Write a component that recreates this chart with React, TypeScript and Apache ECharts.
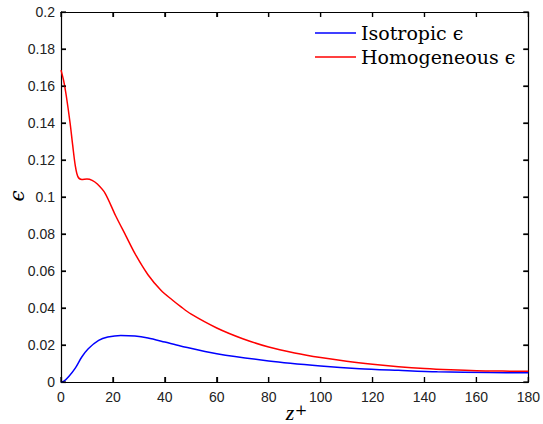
import React, { useEffect, useRef } from "react";
import * as echarts from "echarts";

const xTicks = [0, 20, 40, 60, 80, 100, 120, 140, 160, 180];
const yTicks = [0, 0.02, 0.04, 0.06, 0.08, 0.1, 0.12, 0.14, 0.16, 0.18, 0.2];

const homogX = [0, 1, 2, 3.5, 4.5, 5.5, 6.5, 8, 10, 12, 14, 17, 21, 25, 28.5, 33.5, 38.5, 43, 46, 50, 60, 70, 80, 90, 100, 110, 120, 130, 140, 150, 160, 170, 180];
const homogY = [0.1686, 0.163, 0.155, 0.14, 0.128, 0.117, 0.111, 0.1095, 0.1097, 0.109, 0.107, 0.102, 0.09, 0.079, 0.0694, 0.058, 0.0496, 0.0442, 0.0409, 0.0368, 0.0292, 0.0234, 0.0189, 0.0157, 0.0132, 0.0112, 0.0096, 0.0083, 0.0073, 0.0066, 0.0061, 0.0059, 0.0058];

const isoX = [0, 1, 3, 5.5, 8, 10.5, 14.5, 18, 23, 28.5, 33.5, 40, 46, 60, 80, 100, 115, 130, 145, 165, 180];
const isoY = [0, 0.0003, 0.003, 0.0075, 0.0135, 0.018, 0.0225, 0.0243, 0.0252, 0.0249, 0.0238, 0.0216, 0.0195, 0.0153, 0.0114, 0.0087, 0.0072, 0.0063, 0.0055, 0.0051, 0.005];

const seriesNames = ["Isotropic \u03f5", "Homogeneous \u03f5"];

export default function App() {
  const ref = useRef<HTMLDivElement>(null);
  useEffect(() => {
    if (!ref.current) return;
    document.body.style.margin = "0";
    document.body.style.overflow = "hidden";
    const chart = echarts.init(ref.current, null, { renderer: "svg" });
    const labelFont = { fontFamily: "Liberation Sans", fontSize: 14, color: "#222" };
    const axisLine = { show: true, onZero: false, lineStyle: { color: "#000", width: 1.2 } };
    const tick = { show: true, inside: true, length: 5, lineStyle: { color: "#000", width: 1.2 } };
    const baseGraphic: any[] = [
      {
        id: "ylabel",
        type: "text",
        x: 17,
        y: 196,
        rotation: Math.PI / 2,
        style: {
          text: "\u03f5",
          font: "italic 20px 'DejaVu Serif'",
          fill: "#000",
          align: "center",
          verticalAlign: "middle",
        },
      },
      {
        id: "xlabel-z",
        type: "text",
        x: 290,
        y: 423,
        style: {
          text: "z",
          font: "italic 22px 'Liberation Serif'",
          fill: "#000",
          align: "center",
          verticalAlign: "bottom",
        },
      },
      {
        id: "xlabel-plus",
        type: "text",
        x: 301,
        y: 410,
        style: {
          text: "+",
          font: "15px 'DejaVu Serif'",
          fill: "#000",
          align: "center",
          verticalAlign: "middle",
        },
      },
    ];
    chart.setOption({
      animation: false,
      backgroundColor: "#fff",
      grid: { left: 61, top: 12, right: 14, bottom: 42, containLabel: false },
      legend: {
        orient: "vertical",
        left: 310,
        top: 18,
        icon: "rect",
        itemWidth: 41,
        itemHeight: 1.5,
        itemGap: 4,
        data: seriesNames,
        textStyle: { fontFamily: "DejaVu Serif", fontSize: 19, color: "#000", lineHeight: 20 },
      },
      xAxis: [
        {
          type: "value",
          min: 0,
          max: 180,
          interval: 20,
          axisLine,
          axisTick: tick,
          splitLine: { show: false },
          axisLabel: { ...labelFont, margin: 8, formatter: (v: number) => (xTicks.includes(v) ? String(v) : "") },
        },
        {
          type: "value",
          position: "top",
          min: 0,
          max: 180,
          interval: 20,
          axisLine,
          axisTick: tick,
          splitLine: { show: false },
          axisLabel: { show: false },
        },
      ],
      yAxis: [
        {
          type: "value",
          min: 0,
          max: 0.2,
          interval: 0.02,
          axisLine,
          axisTick: tick,
          splitLine: { show: false },
          axisLabel: {
            ...labelFont,
            margin: 6,
            formatter: (v: number) => {
              const t = yTicks.find((k) => Math.abs(k - v) < 1e-9);
              return t === undefined ? "" : String(parseFloat(t.toFixed(2)));
            },
          },
        },
        {
          type: "value",
          position: "right",
          min: 0,
          max: 0.2,
          interval: 0.02,
          axisLine,
          axisTick: tick,
          splitLine: { show: false },
          axisLabel: { show: false },
        },
      ],
      series: [
        {
          name: seriesNames[0],
          type: "line",
          symbol: "none",
          smooth: 0.3,
          lineStyle: { color: "#0000ff", width: 1.5 },
          itemStyle: { color: "#0000ff" },
          data: isoX.map((x, i) => [x, isoY[i]]),
        },
        {
          name: seriesNames[1],
          type: "line",
          symbol: "none",
          smooth: 0.3,
          lineStyle: { color: "#ff0000", width: 1.5 },
          itemStyle: { color: "#ff0000" },
          data: homogX.map((x, i) => [x, homogY[i]]),
        },
      ],
      graphic: baseGraphic,
    });

    // inside tick marks on all four sides, placed through the axes' own scales
    const x0 = chart.convertToPixel({ xAxisIndex: 0 }, 0) as number;
    const x1 = chart.convertToPixel({ xAxisIndex: 0 }, 180) as number;
    const y0 = chart.convertToPixel({ yAxisIndex: 0 }, 0) as number;
    const y1 = chart.convertToPixel({ yAxisIndex: 0 }, 0.2) as number;
    const L = 5;
    const tickStyle = { stroke: "#000", lineWidth: 1.2 };
    const ticks: any[] = [];
    xTicks.forEach((v, i) => {
      const px = chart.convertToPixel({ xAxisIndex: 0 }, v) as number;
      ticks.push({ id: "xb" + i, type: "line", silent: true, z: 10, shape: { x1: px, y1: y0, x2: px, y2: y0 - L }, style: tickStyle });
      ticks.push({ id: "xt" + i, type: "line", silent: true, z: 10, shape: { x1: px, y1: y1, x2: px, y2: y1 + L }, style: tickStyle });
    });
    yTicks.forEach((v, i) => {
      const py = chart.convertToPixel({ yAxisIndex: 0 }, v) as number;
      ticks.push({ id: "yl" + i, type: "line", silent: true, z: 10, shape: { x1: x0, y1: py, x2: x0 + L, y2: py }, style: tickStyle });
      ticks.push({ id: "yr" + i, type: "line", silent: true, z: 10, shape: { x1: x1, y1: py, x2: x1 - L, y2: py }, style: tickStyle });
    });
    chart.setOption({ graphic: [...baseGraphic, ...ticks] });
    return () => chart.dispose();
  }, []);
  return <div ref={ref} style={{ position: "absolute", left: 0, top: 0, width: 543, height: 424 }} />;
}
